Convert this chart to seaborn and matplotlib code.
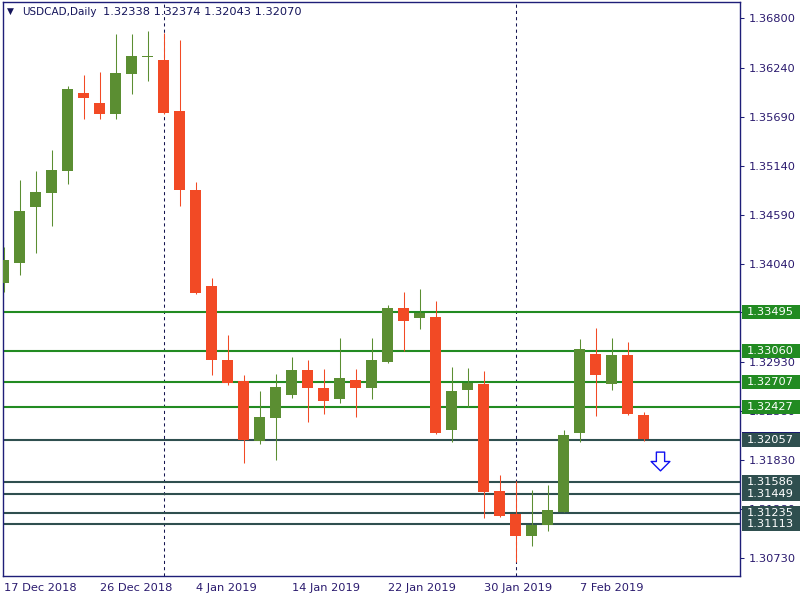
import matplotlib
matplotlib.use('Agg')
import matplotlib.pyplot as plt
import matplotlib.transforms as mtransforms
from matplotlib.patches import Rectangle
from matplotlib.path import Path
import seaborn as sns

sns.set_style('white')
plt.rcParams['font.family'] = ['DejaVu Sans']

# daily OHLC, USDCAD (bar 0 = 17 Dec 2018)
opens = [1.33826, 1.34050, 1.34679, 1.34836, 1.35083, 1.35958, 1.35846, 1.35723, 1.36172, 1.36363,
         1.36329, 1.35756, 1.34870, 1.33792, 1.32951, 1.32715, 1.32041, 1.32300, 1.32558, 1.32838,
         1.32636, 1.32513, 1.32726, 1.32636, 1.32928, 1.33545, 1.33422, 1.33444, 1.32165, 1.32614,
         1.32681, 1.31480, 1.31222, 1.30975, 1.31099, 1.31245, 1.32131, 1.33018, 1.32681, 1.33007,
         1.32338]
highs = [1.34230, 1.34982, 1.35083, 1.35319, 1.36037, 1.36160, 1.36194, 1.36620, 1.36620, 1.36654,
         1.36632, 1.36553, 1.34959, 1.33882, 1.33231, 1.32782, 1.32603, 1.32793, 1.32984, 1.32951,
         1.32849, 1.33197, 1.32849, 1.33197, 1.33579, 1.33725, 1.33759, 1.33624, 1.32872, 1.32861,
         1.32827, 1.31660, 1.31593, 1.31492, 1.31548, 1.32165, 1.33186, 1.33310, 1.33197, 1.33153,
         1.32374]
lows = [1.33725, 1.33916, 1.34163, 1.34466, 1.34937, 1.35666, 1.35666, 1.35666, 1.35947, 1.36093,
        1.35728, 1.34690, 1.33703, 1.32782, 1.32670, 1.31795, 1.32008, 1.31828, 1.32524, 1.32255,
        1.32344, 1.32468, 1.32311, 1.32513, 1.32917, 1.33052, 1.33298, 1.32126, 1.32030, 1.32423,
        1.31177, 1.31189, 1.30683, 1.30863, 1.31031, 1.31240, 1.32030, 1.32322, 1.32614, 1.32333,
        1.32043]
closes = [1.34084, 1.34634, 1.34847, 1.35094, 1.36003, 1.35902, 1.35723, 1.36183, 1.36374, 1.36369,
          1.35734, 1.34870, 1.33714, 1.32951, 1.32692, 1.32053, 1.32311, 1.32647, 1.32838, 1.32636,
          1.32490, 1.32748, 1.32636, 1.32951, 1.33545, 1.33388, 1.33489, 1.32131, 1.32603, 1.32692,
          1.31469, 1.31200, 1.30975, 1.31099, 1.31267, 1.32109, 1.33074, 1.32782, 1.33007, 1.32344,
          1.32070]

date_ticks = [0, 6, 12, 18, 24, 30, 36]
date_labels = ['17 Dec 2018', '26 Dec 2018', '4 Jan 2019', '14 Jan 2019',
               '22 Jan 2019', '30 Jan 2019', '7 Feb 2019']
month_separators = [10, 32]

price_ticks = [1.36800, 1.36240, 1.35690, 1.35140, 1.34590, 1.34040, 1.33490,
               1.32930, 1.32380, 1.31830, 1.31280, 1.30730]

resistance = [1.33495, 1.33060, 1.32707, 1.32427]
support = [1.32057, 1.31586, 1.31449, 1.31235, 1.31113]
bid_price = 1.32070

arrow_x = [41]
arrow_y = [1.31817]

symbol = 'USDCAD,Daily'
last_ohlc = '1.32338 1.32374 1.32043 1.32070'

UP = '#5B8E32'
DOWN = '#F24A25'
NAVY = '#1E1E78'
TEXT = '#2A1A6E'
RES = '#228B22'
SUP = '#2F4F4F'

fig = plt.figure(figsize=(8, 6), dpi=100)
ax = fig.add_axes([2.5 / 800, 24 / 600, 737.5 / 800, 574.5 / 600])
ax.set_facecolor('white')

# candles
for i, (o, h, l, c) in enumerate(zip(opens, highs, lows, closes)):
    col = UP if c >= o else DOWN
    ax.vlines(i, l, h, color=col, linewidth=0.75, zorder=3)
    body = max(abs(c - o), 0.00011)
    ax.bar(i, body, bottom=min(o, c), width=0.69, color=col, linewidth=0, zorder=3)

# month separators
for s in month_separators:
    ax.axvline(s, color='#141450', linewidth=0.75, linestyle=(0, (3, 3)), zorder=1)

# levels
for lv in resistance:
    ax.axhline(lv, color=RES, linewidth=1.5, zorder=2)
for lv in support:
    ax.axhline(lv, color=SUP, linewidth=1.5, zorder=2)

ax.set_xlim(-0.0625, 46.03)
ax.set_ylim(1.30522, 1.36991)

# axes styling
for sp in ax.spines.values():
    sp.set_color(NAVY)
    sp.set_linewidth(1.0)
ax.yaxis.tick_right()
ax.set_yticks(price_ticks)
ax.set_yticklabels([f'{p:.5f}' for p in price_ticks])
ax.set_xticks(date_ticks)
ax.set_xticklabels(date_labels, ha='left')
ax.tick_params(axis='both', colors=NAVY, labelcolor=TEXT, labelsize=8.2,
               length=3, width=0.75, direction='out')
ax.tick_params(axis='y', pad=3)
ax.tick_params(axis='x', pad=2)

# price labels on the right
trans = mtransforms.blended_transform_factory(ax.transAxes, ax.transData)
box_h = 14 / 8880


def price_box(price, color, z):
    ax.add_patch(Rectangle((1.0027, price - box_h / 2), 0.08, box_h, transform=trans,
                           facecolor=color, edgecolor='none', clip_on=False, zorder=z))
    ax.text(1.0095, price, f'{price:.5f}', transform=trans, color='white', fontsize=8.2,
            va='center', ha='left', clip_on=False, zorder=z + 0.1)


price_box(bid_price, '#1A1A6E', 4)
for lv in resistance:
    price_box(lv, RES, 5)
for lv in support:
    price_box(lv, SUP, 5)

# signal arrow
arrow = Path([(-0.22, 0.5), (0.22, 0.5), (0.22, 0.0), (0.5, 0.0), (0.0, -0.5),
              (-0.5, 0.0), (-0.22, 0.0), (-0.22, 0.5)],
             [Path.MOVETO] + [Path.LINETO] * 6 + [Path.CLOSEPOLY])
ax.plot(arrow_x, arrow_y, linestyle='none', marker=arrow, markersize=13.5,
        markerfacecolor='white', markeredgecolor='#1010F0', markeredgewidth=1.0, zorder=6)

# title
ax.text(0.006, 0.9825, '\u25bc', transform=ax.transAxes, fontsize=6.5, color='#14145A',
        va='center', ha='left')
ax.text(0.0264, 0.9825, symbol, transform=ax.transAxes, fontsize=7.5, color='#14145A',
        va='center', ha='left')
ax.text(0.1363, 0.9825, last_ohlc, transform=ax.transAxes, fontsize=8.2, color='#14145A',
        va='center', ha='left')

fig.savefig('out.png', dpi=100, facecolor='white')
